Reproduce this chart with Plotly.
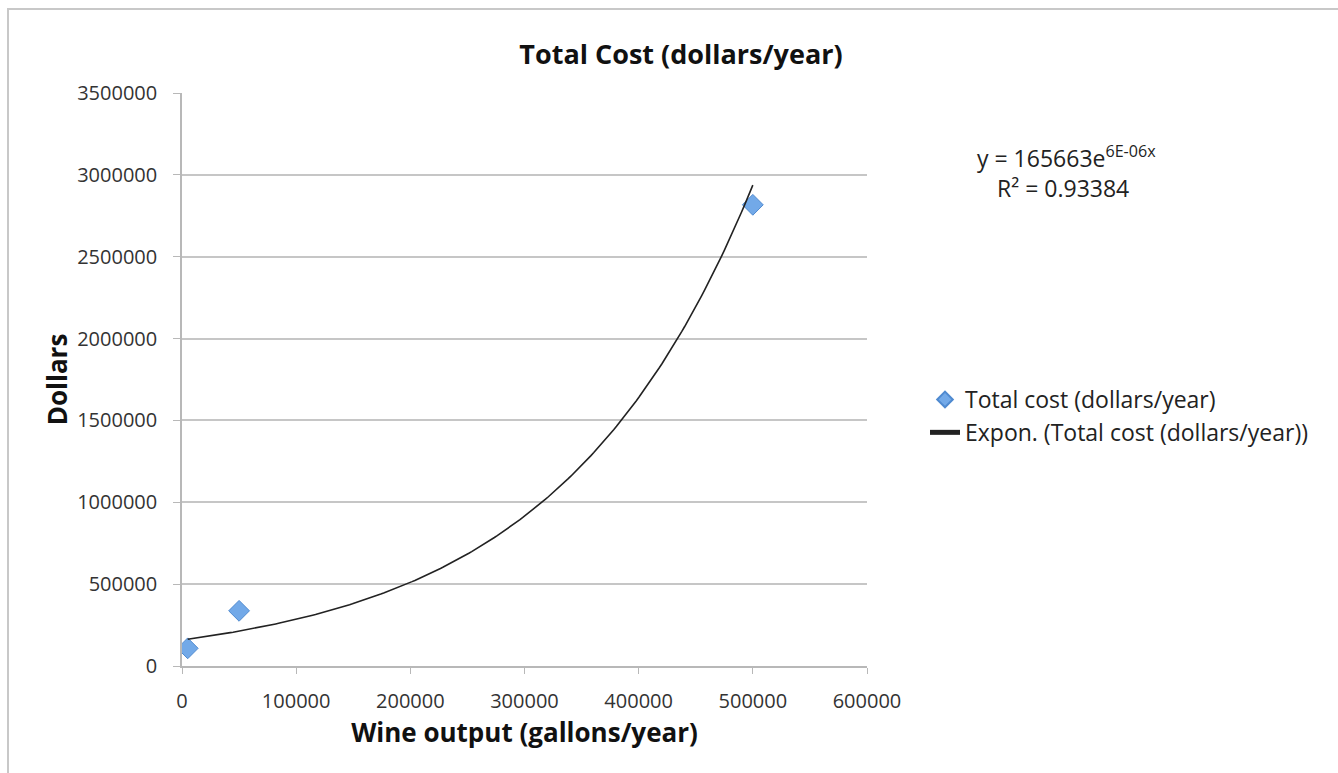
import numpy as np
import plotly.graph_objects as go

# Data
wine_output = [5000, 50000, 500000]
total_cost = [108000, 337000, 2817000]
x_ticks = [0, 100000, 200000, 300000, 400000, 500000, 600000]
y_ticks = [0, 500000, 1000000, 1500000, 2000000, 2500000, 3000000, 3500000]
series_name = "Total cost (dollars/year)"
trend_name = "Expon. (Total cost (dollars/year))"
equation_text = "y = 165663e<sup>6E-06x</sup>"
r2_text = "R² = 0.93384"

# Exponential trendline fitted from the data
xa = np.array(wine_output, dtype=float)
ya = np.array(total_cost, dtype=float)
b, ln_a = np.polyfit(xa, np.log(ya), 1)
xt = np.linspace(xa.min(), xa.max(), 200)
yt = np.exp(ln_a) * np.exp(b * xt)

FONT = "Open Sans"
L, R, T, B = 182, 471, 93, 107
PW, PH = 1338 - L - R, 773 - T - B

def px(x):
    return (x - L) / PW

def py(y):
    return (773 - B - y) / PH

fig = go.Figure()
fig.add_trace(go.Scatter(
    x=xa, y=ya, mode="markers", name=series_name,
    marker=dict(symbol="diamond", size=16, color="#72a9e8",
                line=dict(color="#4f8ad0", width=1)),
))
fig.add_trace(go.Scatter(
    x=xt, y=yt, mode="lines", name=trend_name,
    line=dict(color="#222222", width=1.6),
))

fig.update_layout(
    width=1338, height=773,
    margin=dict(l=L, r=R, t=T, b=B),
    paper_bgcolor="white", plot_bgcolor="white",
    font=dict(family=FONT, size=20, color="#222222"),
    title=dict(text="<b>Total Cost (dollars/year)</b>", x=681 / 1338, xanchor="center",
               y=1 - 55 / 773, yanchor="middle",
               font=dict(family=FONT, size=27, color="#111111")),
    showlegend=True,
    legend=dict(x=px(925), y=py(416), xanchor="left", yanchor="middle",
                font=dict(size=23, color="#222222"),
                bgcolor="rgba(0,0,0,0)", tracegroupgap=0, itemsizing="constant"),
    xaxis=dict(range=[0, 600000], tickvals=x_ticks, tickformat="d",
               showgrid=False, zeroline=False,
               showline=True, linecolor="#b8b8b8", linewidth=1.5,
               ticks="outside", ticklen=6, tickcolor="#b8b8b8",
               ticklabelstandoff=10,
               tickfont=dict(size=20, color="#333333"),
               title=dict(text="<b>Wine output (gallons/year)</b>", standoff=10,
                          font=dict(size=26, color="#111111"))),
    yaxis=dict(range=[0, 3500000], tickvals=y_ticks, tickformat="d",
               showgrid=True, gridcolor="#c6c6c6", gridwidth=1.5, zeroline=False,
               showline=True, linecolor="#b8b8b8", linewidth=1.5,
               ticks="outside", ticklen=7, tickcolor="#b8b8b8",
               ticklabelstandoff=12,
               tickfont=dict(size=20, color="#333333"),
               title=dict(text="<b>Dollars</b>", standoff=2,
                          font=dict(size=26, color="#111111"))),
)

# Trendline equation
fig.add_annotation(xref="paper", yref="paper", x=px(975), y=py(157),
                   text=equation_text, showarrow=False, xanchor="left", yanchor="middle",
                   font=dict(size=23, color="#222222"))
fig.add_annotation(xref="paper", yref="paper", x=px(995), y=py(188),
                   text=r2_text, showarrow=False, xanchor="left", yanchor="middle",
                   font=dict(size=23, color="#222222"))

# Outer chart border
fig.add_shape(type="rect", xref="paper", yref="paper",
              x0=px(8), x1=px(1345), y0=py(780), y1=py(9),
              line=dict(color="#c8c8c8", width=2), fillcolor="rgba(0,0,0,0)", layer="below")

fig.write_html("out.html")
